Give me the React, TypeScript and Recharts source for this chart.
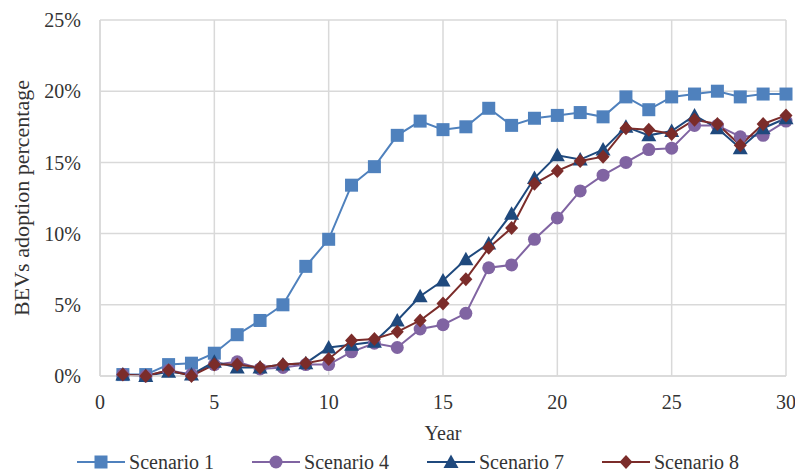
import React from 'react'
import {
  CartesianGrid,
  Legend,
  Line,
  LineChart,
  XAxis,
  YAxis,
} from 'recharts'

const years = [
  1, 2, 3, 4, 5, 6, 7, 8, 9, 10, 11, 12, 13, 14, 15, 16, 17, 18, 19, 20, 21,
  22, 23, 24, 25, 26, 27, 28, 29, 30,
]
const scenario1 = [
  0.1, 0.1, 0.8, 0.9, 1.6, 2.9, 3.9, 5.0, 7.7, 9.6, 13.4, 14.7, 16.9, 17.9,
  17.3, 17.5, 18.8, 17.6, 18.1, 18.3, 18.5, 18.2, 19.6, 18.7, 19.6, 19.8, 20.0,
  19.6, 19.8, 19.8,
]
const scenario4 = [
  0.1, 0.0, 0.4, 0.1, 0.8, 1.0, 0.5, 0.6, 0.8, 0.8, 1.7, 2.3, 2.0, 3.3, 3.6,
  4.4, 7.6, 7.8, 9.6, 11.1, 13.0, 14.1, 15.0, 15.9, 16.0, 17.6, 17.6, 16.8,
  16.9, 17.9,
]
const scenario7 = [
  0.1, 0.0, 0.3, 0.1, 1.0, 0.6, 0.6, 0.8, 0.9, 2.0, 2.2, 2.4, 3.9, 5.6, 6.7,
  8.2, 9.3, 11.4, 13.9, 15.5, 15.2, 15.9, 17.5, 16.9, 17.2, 18.3, 17.4, 16.0,
  17.4, 18.1,
]
const scenario8 = [
  0.1, 0.0, 0.4, 0.0, 0.8, 0.8, 0.6, 0.8, 0.9, 1.2, 2.5, 2.6, 3.1, 3.9, 5.1,
  6.8, 9.0, 10.4, 13.5, 14.4, 15.1, 15.4, 17.4, 17.3, 17.0, 18.0, 17.7, 16.2,
  17.7, 18.3,
]
const xTicks = [0, 5, 10, 15, 20, 25, 30]
const yTicks = [0, 5, 10, 15, 20, 25]

const FONT = 'Liberation Serif'
const TEXT = '#333333'
const GRID = '#D9D9D9'

type Shape = 'square' | 'circle' | 'triangle' | 'diamond'

const series: { key: string; name: string; color: string; shape: Shape }[] = [
  { key: 's1', name: 'Scenario 1', color: '#4F81BD', shape: 'square' },
  { key: 's4', name: 'Scenario 4', color: '#8064A2', shape: 'circle' },
  { key: 's7', name: 'Scenario 7', color: '#1F497D', shape: 'triangle' },
  { key: 's8', name: 'Scenario 8', color: '#7B2C2A', shape: 'diamond' },
]

const data = years.map((year, i) => ({
  year,
  s1: scenario1[i],
  s4: scenario4[i],
  s7: scenario7[i],
  s8: scenario8[i],
}))

const tickStyle = { fill: TEXT, fontSize: 20, style: { fontFamily: FONT } }

function Marker({ cx, cy, shape, color }: { cx: number; cy: number; shape: Shape; color: string }) {
  const r = 6.5
  if (shape === 'square') {
    return <rect x={cx - r} y={cy - r} width={r * 2} height={r * 2} fill={color} />
  }
  if (shape === 'circle') {
    return <circle cx={cx} cy={cy} r={r} fill={color} />
  }
  if (shape === 'triangle') {
    return (
      <polygon
        points={`${cx},${cy - 7.5} ${cx + 7.5},${cy + 6} ${cx - 7.5},${cy + 6}`}
        fill={color}
      />
    )
  }
  return (
    <polygon
      points={`${cx},${cy - 7} ${cx + 6.5},${cy} ${cx},${cy + 7} ${cx - 6.5},${cy}`}
      fill={color}
    />
  )
}

const makeDot = (shape: Shape, color: string) => (props: any) => {
  const { cx, cy, index } = props
  if (cx == null || cy == null) return <g key={index} />
  return <Marker key={index} cx={cx} cy={cy} shape={shape} color={color} />
}

function LegendContent() {
  return (
    <div
      style={{
        display: 'flex',
        justifyContent: 'center',
        gap: 38,
        paddingLeft: 30,
        fontFamily: FONT,
        fontSize: 20,
        color: TEXT,
      }}
    >
      {series.map((s) => (
        <div key={s.key} style={{ display: 'flex', alignItems: 'center' }}>
          <svg width={48} height={24} style={{ marginRight: 4 }}>
            <line x1={0} y1={12} x2={48} y2={12} stroke={s.color} strokeWidth={2} />
            <Marker cx={24} cy={12} shape={s.shape} color={s.color} />
          </svg>
          <span style={{ fontFamily: FONT }}>{s.name}</span>
        </div>
      ))}
    </div>
  )
}

export default function App() {
  return (
    <div style={{ position: 'absolute', left: 0, top: 0, background: '#fff' }}>
      <LineChart
        width={795}
        height={476}
        data={data}
        margin={{ top: 20, right: 9, left: 0, bottom: 10 }}
      >
        <CartesianGrid stroke={GRID} strokeWidth={1.5} />
        <XAxis
          dataKey="year"
          type="number"
          domain={[0, 30]}
          ticks={xTicks}
          interval={0}
          height={64}
          stroke={GRID}
          strokeWidth={1.5}
          tickLine={false}
          tickSize={6}
          tickMargin={13}
          tick={tickStyle}
          label={{
            value: 'Year',
            position: 'insideBottom',
            offset: 0,
            fill: TEXT,
            fontSize: 20,
            style: { fontFamily: FONT },
          }}
        />
        <YAxis
          type="number"
          domain={[0, 25]}
          ticks={yTicks}
          interval={0}
          width={100}
          stroke={GRID}
          strokeWidth={1.5}
          tickLine={false}
          tickSize={6}
          tickMargin={13}
          tickFormatter={(v) => `${v}%`}
          tick={tickStyle}
          label={{
            value: 'BEVs adoption percentage',
            angle: -90,
            position: 'insideLeft',
            offset: 21,
            fill: TEXT,
            fontSize: 22,
            style: { textAnchor: 'middle', fontFamily: FONT },
          }}
        />
        <Legend
          verticalAlign="bottom"
          content={<LegendContent />}
          wrapperStyle={{ bottom: 0, height: 26 }}
        />
        {series.map((s) => (
          <Line
            key={s.key}
            dataKey={s.key}
            name={s.name}
            stroke={s.color}
            strokeWidth={2}
            dot={makeDot(s.shape, s.color)}
            activeDot={false}
            isAnimationActive={false}
          />
        ))}
      </LineChart>
    </div>
  )
}
